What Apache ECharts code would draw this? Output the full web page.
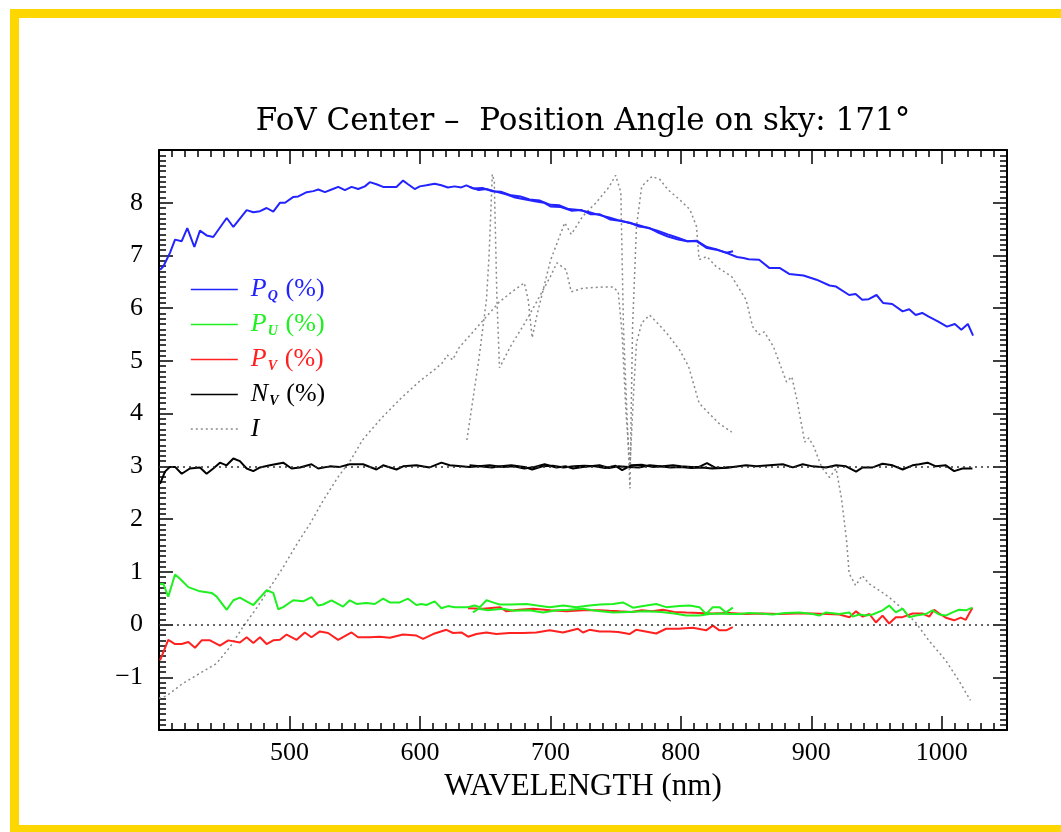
<!DOCTYPE html>
<html>
<head>
<meta charset="utf-8">
<script src="https://cdn.jsdelivr.net/npm/echarts@6/dist/echarts.min.js"></script>
<style>
html,body{margin:0;padding:0;background:#fff;}
#chart{width:1061px;height:832px;}
</style>
</head>
<body>
<div id="chart"></div>
<script>
// ---- data: [wavelength nm, value] ----
const titleText = 'FoV Center –  Position Angle on sky: 171°';
const xName = 'WAVELENGTH (nm)';
const legendNames = ['P_Q', 'P_U', 'P_V', 'N_V', 'I'];
const xTicks = [500, 600, 700, 800, 900, 1000];
const yTicks = [-1, 0, 1, 2, 3, 4, 5, 6, 7, 8];

const pQ1 = [[400.8,6.73],[403.3,6.79],[408.4,7.05],[412.3,7.30],[417.4,7.27],[421.7,7.52],[427.1,7.16],[431.4,7.47],[436.5,7.38],[441.6,7.35],[451.9,7.71],[457.0,7.54],[467.2,7.86],[472.3,7.82],[477.4,7.84],[482.5,7.90],[487.6,7.83],[492.8,8.00],[496.6,8.00],[503.0,8.11],[506.8,8.12],[513.2,8.20],[518.3,8.22],[522.1,8.25],[527.2,8.20],[532.3,8.25],[537.4,8.30],[542.5,8.24],[547.6,8.30],[552.7,8.26],[557.8,8.31],[561.6,8.39],[566.7,8.35],[571.8,8.30],[582.0,8.30],[587.1,8.42],[590.9,8.35],[596.0,8.26],[599.9,8.31],[605.0,8.33],[611.3,8.36],[616.4,8.33],[621.5,8.29],[626.6,8.31],[631.7,8.29],[635.6,8.33],[641,8.27],[648,8.28],[655,8.22],[662,8.21],[670,8.14],[677,8.12],[684,8.06],[692,8.04],[700,7.96],[707,7.95],[714,7.88],[722,7.86],[730,7.82],[737,7.77],[745,7.72],[752,7.67],[760,7.62],[767,7.58],[775,7.52],[782,7.47],[790,7.40],[797,7.34],[805,7.27],[812,7.28],[820,7.16],[827,7.12],[835,7.05],[840,7.08]];
const pQ2 = [[638,8.30],[645,8.24],[651,8.26],[658,8.21],[666,8.16],[673,8.10],[681,8.06],[688,8.03],[695,8.00],[700,7.93],[708,7.92],[716,7.85],[724,7.86],[731,7.78],[738,7.78],[746,7.68],[753,7.66],[761,7.62],[768,7.55],[776,7.52],[783,7.43],[790,7.36],[798,7.30],[805,7.27],[812,7.27],[820,7.14],[827,7.11],[835,7.05],[843,6.97],[848,6.95],[852,6.93],[860,6.92],[868,6.76],[876,6.76],[883,6.65],[894,6.62],[904,6.54],[914,6.43],[919,6.41],[929,6.25],[934,6.27],[939,6.16],[944,6.17],[950,6.25],[955,6.10],[962,6.08],[970,5.94],[975,5.98],[980,5.87],[985,5.91],[990,5.84],[997,5.75],[1004,5.65],[1010,5.70],[1015,5.59],[1020,5.70],[1024,5.48]];

const pU1 = [[400.8,0.77],[403.3,0.77],[407.1,0.53],[412.3,0.95],[416.1,0.87],[422.5,0.71],[431.4,0.63],[440.4,0.60],[444.2,0.53],[451.9,0.28],[457,0.46],[462,0.51],[472.3,0.37],[482.5,0.65],[487.6,0.60],[491.4,0.29],[495.2,0.33],[502.9,0.46],[510.5,0.44],[516.9,0.52],[522,0.36],[525.8,0.38],[532.2,0.46],[541.1,0.34],[546.2,0.46],[551.4,0.39],[559,0.41],[565.4,0.39],[571.8,0.49],[576.9,0.42],[584.5,0.42],[590.9,0.49],[597.3,0.37],[601.2,0.39],[605,0.37],[611.3,0.44],[616.5,0.31],[621.5,0.35],[626.6,0.33],[633,0.33],[636.8,0.33],[641.9,0.36],[646,0.33],[651,0.46],[656,0.42],[661.1,0.38],[670,0.38],[681.6,0.39],[690,0.36],[699.4,0.33],[710,0.36],[719.8,0.33],[730,0.36],[738,0.38],[748,0.39],[755.6,0.42],[763.3,0.32],[773.5,0.36],[781.1,0.39],[788.8,0.33],[799,0.35],[806.6,0.36],[814.3,0.33],[819.4,0.20],[824.5,0.33],[829.6,0.33],[834.7,0.23],[839.8,0.32]];
const pU2 = [[640.7,0.23],[645,0.30],[652,0.27],[663.6,0.30],[672,0.26],[684,0.27],[694.3,0.23],[705,0.27],[714,0.28],[724.9,0.30],[735,0.26],[748,0.23],[760,0.24],[773.5,0.25],[785,0.24],[795,0.21],[804.2,0.17],[814.3,0.17],[822,0.20],[829.6,0.21],[838,0.20],[844.9,0.20],[852,0.22],[860.3,0.21],[870.5,0.19],[880,0.22],[891,0.23],[901.1,0.20],[906.2,0.17],[911.3,0.23],[921.5,0.20],[929.2,0.23],[931.7,0.15],[936.8,0.19],[941.9,0.17],[947,0.19],[954.6,0.27],[959.7,0.36],[964.8,0.23],[970,0.30],[975,0.14],[980.2,0.17],[987.8,0.20],[992.9,0.27],[998,0.19],[1003.1,0.17],[1008.2,0.23],[1013.3,0.28],[1018.4,0.27],[1023.5,0.32]];

const pV1 = [[400.8,-0.68],[407.1,-0.29],[412.3,-0.37],[417.4,-0.37],[422.5,-0.33],[427.6,-0.44],[432.7,-0.30],[439.1,-0.30],[446.7,-0.40],[453.1,-0.30],[462,-0.34],[467.2,-0.24],[472.3,-0.35],[477.4,-0.24],[482.5,-0.37],[487.6,-0.30],[492.7,-0.29],[497.8,-0.19],[505.5,-0.29],[511.8,-0.15],[516.9,-0.24],[523.3,-0.13],[529.6,-0.16],[537.3,-0.29],[547.6,-0.15],[552.6,-0.24],[561.6,-0.24],[569.2,-0.23],[576.9,-0.25],[587.1,-0.19],[597.3,-0.21],[602.4,-0.27],[610.1,-0.18],[620.3,-0.10],[625.4,-0.16],[631.8,-0.15],[636.9,-0.23],[643.3,-0.18],[650.9,-0.15],[658.6,-0.18],[668.8,-0.16],[679,-0.16],[689.2,-0.15],[699.4,-0.11],[709.6,-0.15],[721.1,-0.08],[724.9,-0.15],[730,-0.10],[737.7,-0.13],[745.3,-0.13],[752,-0.14],[760.6,-0.18],[765.7,-0.10],[773,-0.13],[781.1,-0.17],[788.7,-0.08],[798,-0.08],[809.2,-0.06],[819.4,-0.11],[824.5,-0.02],[829.6,-0.11],[834.7,-0.11],[839.8,-0.05]];
const pV2 = [[636.9,0.31],[648.4,0.30],[661.2,0.33],[666.3,0.25],[676,0.28],[686.7,0.30],[700,0.27],[712.3,0.25],[725,0.27],[737.7,0.27],[745,0.26],[752.9,0.25],[762,0.24],[770,0.27],[778,0.25],[786.1,0.28],[795,0.24],[804,0.23],[814,0.22],[824.5,0.21],[837,0.22],[850,0.20],[862,0.21],[875.5,0.20],[888,0.21],[901.1,0.21],[912,0.20],[921.5,0.19],[929.2,0.14],[934.3,0.25],[939.4,0.15],[944.5,0.20],[949.5,0.04],[954.6,0.17],[959.7,0.02],[964.8,0.14],[969.9,0.14],[977.6,0.21],[985.2,0.21],[990.4,0.15],[994.2,0.28],[998,0.21],[1003.1,0.13],[1009.5,0.08],[1014.6,0.13],[1018.4,0.09],[1023.5,0.32]];

const nV1 = [[400.8,2.67],[404.6,2.90],[408.4,2.99],[412.3,2.99],[417.4,2.86],[423.7,2.96],[431.4,2.98],[436.5,2.86],[441.6,2.96],[446.7,3.07],[451.8,3.02],[457,3.15],[462,3.10],[467.2,2.96],[472.3,2.91],[477.4,2.98],[485,3.02],[495.2,3.07],[501.6,2.96],[508,2.98],[516.9,3.04],[522,2.96],[530.9,3.00],[538.6,2.99],[546.2,3.04],[556.4,3.04],[566.7,2.94],[571.8,3.02],[582,2.94],[587.1,3.00],[597.3,3.02],[607.5,2.98],[616.5,3.07],[622.8,3.02],[638.1,2.99],[645,3.00],[653.4,3.02],[663.6,2.99],[672,3.00],[680,2.96],[688,2.99],[695.6,3.04],[704.5,2.98],[712,3.00],[717.3,2.96],[724.9,2.99],[737.7,3.02],[745,2.97],[752,3.00],[760,2.99],[768,2.98],[776,3.02],[784,3.00],[792,2.98],[800,2.99],[808,2.97],[816,2.98],[824,2.96],[832,2.97],[839.8,2.99]];
const nV2 = [[638,3.02],[646,3.00],[655,2.98],[662,3.00],[670,3.02],[680,2.99],[686,2.94],[694,3.00],[702,3.01],[710,2.98],[718,3.00],[726,3.01],[734,3.00],[742,2.97],[750,3.01],[755,2.93],[762,3.02],[770,3.03],[778,2.99],[786,3.00],[794,3.02],[800,3.00],[808,2.99],[814,2.99],[820,3.06],[826,2.98],[832,2.97],[839.8,2.99],[850,3.02],[858,3.00],[867.9,3.02],[878.1,3.04],[885.8,2.98],[893.4,3.04],[901.1,3.00],[911.3,2.98],[919,3.02],[926.6,3.00],[934.3,2.90],[939.4,2.98],[947,2.98],[954.6,3.05],[962.3,3.02],[970,2.94],[977.6,3.02],[982.7,3.04],[989.1,3.07],[995.5,3.00],[1003.1,3.02],[1009.5,2.91],[1015.9,2.96],[1023.5,2.96]];

const iLong = [[400,-1.4],[406,-1.35],[418,-1.12],[431,-0.93],[444,-0.74],[454,-0.44],[464,-0.06],[475,0.32],[485,0.70],[495,1.08],[506,1.54],[516,1.92],[526,2.36],[537,2.79],[547,3.12],[556,3.5],[570,3.9],[585,4.28],[600,4.62],[612,4.85],[617,4.96],[621,5.11],[625,5.02],[630,5.25],[640,5.53],[651,5.84],[661,6.12],[670,6.3],[680,6.48],[683,6.16],[686,5.44],[690,5.9],[700,6.9],[711,7.62],[716,7.4],[725,7.75],[735,8.0],[745,8.3],[750,8.52],[754,8.2],[756,5.65],[761,2.58],[763,5.65],[766,7.55],[770,8.31],[778,8.5],[784,8.44],[790,8.25],[799,8.06],[807,7.87],[812,7.55],[814,6.92],[820,6.98],[827,6.79],[839,6.6],[850,6.16],[855,5.65],[860,5.5],[864,5.55],[871,5.27],[881,4.6],[885,4.7],[889,4.26],[895,3.46],[898,3.54],[902,3.37],[908,2.98],[914,2.79],[919,2.96],[923,2.41],[924,2.22],[927,1.6],[929,0.97],[934,0.74],[939,0.93],[944,0.78],[952,0.65],[960,0.51],[967,0.36],[980,0.04],[990,-0.3],[1003,-0.68],[1013,-1.06],[1022,-1.44]];
const iShort = [[636,3.5],[645,5.0],[651,6.16],[653,7.0],[655.5,8.54],[657,8.4],[659,6.2],[661,4.87],[670,5.3],[680,5.7],[689,6.1],[700,6.6],[705,6.86],[712,6.73],[716,6.31],[725,6.38],[740,6.4],[748,6.4],[752,6.31],[755,5.5],[758,4.0],[761,3.0],[764,4.5],[766,5.34],[770,5.72],[776,5.87],[782,5.72],[789,5.53],[799,5.21],[806,4.89],[814,4.2],[819,4.07],[829,3.82],[839,3.65]];

const refLevels = [0, 3];

// ---- styling ----
const SERIF = '"Liberation Serif","DejaVu Serif",serif';
const TITLE_FONT = '"DejaVu Serif","Liberation Serif",serif';
const C = {P_Q:'#2323ff', P_U:'#1ff01f', P_V:'#ff2020', N_V:'#000000', I:'#8a8a8a'};

function rich(color){
  return {
    w:{fontSize:10, width:8, lineHeight:30, color:color},
    p:{fontFamily:SERIF, fontStyle:'italic', fontSize:26, lineHeight:30, color:color},
    s:{fontFamily:SERIF, fontStyle:'italic', fontWeight:'bold', fontSize:14, lineHeight:16, padding:[13,0,0,1], color:color},
    g:{fontSize:14, lineHeight:30, color:color},
    n:{fontFamily:SERIF, fontSize:26, lineHeight:30, color:color}
  };
}

function line(name, data, width, type, z){
  return {
    type:'line', name:name, data:data, symbol:'none', showSymbol:false,
    xAxisIndex:0, yAxisIndex:0, z:z, animation:false, silent:true,
    lineStyle:{color:C[name], width:width, type:type},
    itemStyle:{color:C[name]}
  };
}

const chart = echarts.init(document.getElementById('chart'), null, {renderer:'canvas'});

const hiddenLabel = {show:false};
const xBase = {type:'value', min:400, max:1050, gridIndex:0, splitLine:{show:false}};
const yBase = {type:'value', min:-2, max:9, interval:1, gridIndex:0, splitLine:{show:false}};

const option = {
  backgroundColor:'#ffffff',
  animation:false,
  title:{
    text:titleText, left:578, top:101, textAlign:'center',
    textStyle:{fontFamily:TITLE_FONT, fontWeight:'normal', fontSize:31, color:'#000'}
  },
  graphic:[{
    type:'rect', silent:true, z:100,
    shape:{x:14.5, y:13.5, width:1200, height:816},
    style:{fill:'none', stroke:'#ffd700', lineWidth:9}
  }],
  grid:{left:159, right:54, top:150, bottom:102, containLabel:false},
  legend:{
    orient:'vertical', left:190, top:276, padding:0, itemGap:8,
    itemWidth:47, itemHeight:14, selectedMode:false,
    itemStyle:{opacity:0},
    lineStyle:{width:1.6},
    formatter:function(name){
      if(name === 'I') return '{w| }{p|I}';
      const parts = name.split('_');
      return '{w| }{p|' + parts[0] + '}{s|' + parts[1] + '}{g|  }{n|(%)}';
    },
    data:legendNames.map(function(n){
      return {name:n, textStyle:{color:n==='I'?'#000':C[n], rich:rich(n==='I'?'#000':C[n])}};
    })
  },
  xAxis:[
    Object.assign({}, xBase, {
      position:'bottom', interval:100,
      name:xName, nameLocation:'middle', nameGap:41,
      nameTextStyle:{fontFamily:SERIF, fontSize:31, color:'#000'},
      axisLine:{show:true, onZero:false, lineStyle:{color:'#000', width:2}},
      axisTick:{show:true, inside:true, length:14, lineStyle:{color:'#000', width:1.5}},
      axisLabel:{show:true, margin:10, fontFamily:SERIF, fontSize:26, color:'#000',
        formatter:function(v){ return xTicks.indexOf(v) >= 0 ? String(v) : ''; }}
    }),
    Object.assign({}, xBase, {
      position:'bottom', interval:10,
      axisLine:{show:false, onZero:false},
      axisTick:{show:true, inside:true, length:7, lineStyle:{color:'#000', width:1.5}},
      axisLabel:hiddenLabel
    }),
    Object.assign({}, xBase, {
      position:'top', interval:100,
      axisLine:{show:true, onZero:false, lineStyle:{color:'#000', width:2}},
      axisTick:{show:true, inside:true, length:14, lineStyle:{color:'#000', width:1.5}},
      axisLabel:hiddenLabel
    }),
    Object.assign({}, xBase, {
      position:'top', interval:10,
      axisLine:{show:false, onZero:false},
      axisTick:{show:true, inside:true, length:7, lineStyle:{color:'#000', width:1.5}},
      axisLabel:hiddenLabel
    })
  ],
  yAxis:[
    Object.assign({}, yBase, {
      position:'left',
      axisLine:{show:true, onZero:false, lineStyle:{color:'#000', width:2}},
      axisTick:{show:true, inside:true, length:14, lineStyle:{color:'#000', width:1.5}},
      minorTick:{show:true, splitNumber:10, length:7, lineStyle:{color:'#000', width:1.5}},
      axisLabel:{show:true, margin:16, fontFamily:SERIF, fontSize:26, color:'#000',
        formatter:function(v){
          if(yTicks.indexOf(v) < 0) return '';
          return v < 0 ? '\u2212' + (-v) : String(v);
        }}
    }),
    Object.assign({}, yBase, {
      position:'right',
      axisLine:{show:true, onZero:false, lineStyle:{color:'#000', width:2}},
      axisTick:{show:true, inside:true, length:14, lineStyle:{color:'#000', width:1.5}},
      minorTick:{show:true, splitNumber:10, length:7, lineStyle:{color:'#000', width:1.5}},
      axisLabel:hiddenLabel
    })
  ],
  series:[
    {
      type:'line', name:'ref', data:[], xAxisIndex:0, yAxisIndex:0, z:1,
      markLine:{
        silent:true, symbol:['none','none'], animation:false,
        label:{show:false},
        lineStyle:{color:'#333', width:1.6, type:[2,4]},
        data:refLevels.map(function(v){ return {yAxis:v}; })
      }
    },
    line('I', iLong, 1.5, [2,3], 2),
    line('I', iShort, 1.5, [2,3], 2),
    line('N_V', nV1, 2, 'solid', 3),
    line('N_V', nV2, 2, 'solid', 3),
    line('P_V', pV1, 2, 'solid', 4),
    line('P_V', pV2, 2, 'solid', 4),
    line('P_U', pU1, 2, 'solid', 5),
    line('P_U', pU2, 2, 'solid', 5),
    line('P_Q', pQ1, 2, 'solid', 6),
    line('P_Q', pQ2, 2, 'solid', 6)
  ]
};

chart.setOption(option);
</script>
</body>
</html>
